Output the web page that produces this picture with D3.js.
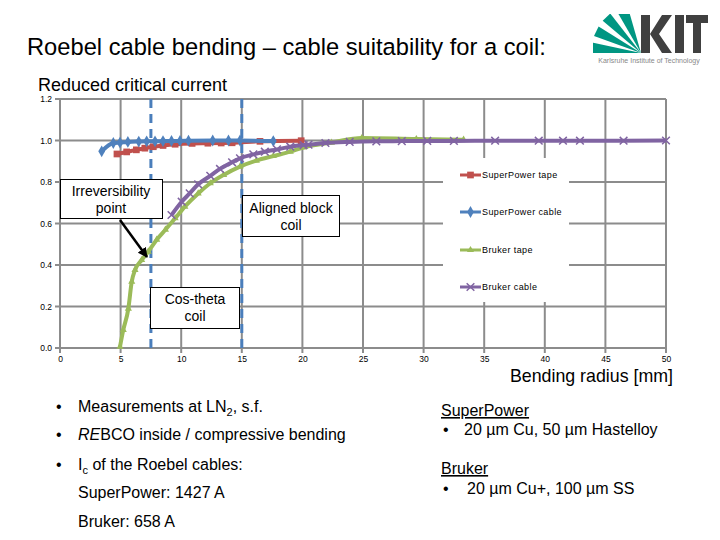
<!DOCTYPE html>
<html><head><meta charset="utf-8">
<script src="https://cdn.jsdelivr.net/npm/d3@7"></script>
<style>body{margin:0;background:#fff}svg{display:block}</style>
</head><body>
<svg id="c" width="720" height="540"></svg>
<script>
// ---------- DATA ----------
const seriesNames = ["SuperPower tape", "SuperPower cable", "Bruker tape", "Bruker cable"];
const spTapeR  = [4.7, 5.5, 6.3, 7.0, 7.7, 8.5, 9.5, 10.9, 12.2, 13.3, 14.2, 16.5, 19.9];
const spTapeV  = [0.935, 0.945, 0.955, 0.963, 0.970, 0.976, 0.982, 0.986, 0.987, 0.988, 0.989, 0.996, 0.999];
const spCableR = [3.44, 4.4, 4.95, 5.6, 6.5, 7.15, 7.84, 8.5, 9.2, 9.9, 10.6, 12.6, 13.9, 14.85, 17.6];
const spCableV = [0.948, 0.988, 0.990, 0.993, 0.995, 0.996, 0.996, 0.997, 0.998, 0.998, 0.999, 1.0, 1.0, 1.0, 0.997];
const brTapeR  = [4.95, 5.22, 5.64, 5.92, 6.19, 6.74, 7.28, 7.98, 8.7, 9.5, 10.3, 11.4, 12.4, 13.5, 14.85, 16.2, 17.6, 19.0, 20.1, 22.4, 24.9, 29.4, 33.3];
const brTapeV  = [0.006, 0.087, 0.19, 0.32, 0.376, 0.424, 0.464, 0.522, 0.57, 0.625, 0.681, 0.745, 0.794, 0.834, 0.874, 0.903, 0.925, 0.946, 0.967, 0.99, 1.012, 1.007, 1.004];
const brCableR = [9.2, 10.04, 10.7, 11.4, 12.4, 13.2, 14.2, 14.85, 15.95, 16.9, 17.9, 19.0, 20.1, 20.5, 21.9, 23.9, 26.1, 28.2, 30.3, 32.5, 35.9, 39.5, 41.5, 42.9, 46.5, 50.0];
const brCableV = [0.641, 0.705, 0.745, 0.789, 0.830, 0.863, 0.895, 0.914, 0.933, 0.946, 0.957, 0.970, 0.978, 0.980, 0.988, 0.993, 0.996, 0.997, 0.998, 0.998, 0.999, 0.999, 0.999, 0.999, 0.999, 1.0];
const xTicks = [0, 5, 10, 15, 20, 25, 30, 35, 40, 45, 50];
const yTicks = [0.0, 0.2, 0.4, 0.6, 0.8, 1.0, 1.2];
const markerLines = [7.5, 15];   // irreversibility point / aligned block coil radii
const colors = ["#C0504D", "#4F81BD", "#9BBB59", "#8064A2"];

// ---------- SETUP ----------
const svg = d3.select("#c");
const F = "'Liberation Sans', Arial, sans-serif";
const x = d3.scaleLinear().domain([0, 50]).range([60, 666]);
const y = d3.scaleLinear().domain([0, 1.2]).range([348, 99]);

// title
svg.append("text").attr("x", 27).attr("y", 55).attr("font-family", F).attr("font-size", 23.7)
  .attr("fill", "#000").text("Roebel cable bending – cable suitability for a coil:");
svg.append("text").attr("x", 38).attr("y", 91).attr("font-family", F).attr("font-size", 18)
  .attr("fill", "#000").text("Reduced critical current");

// KIT logo
const logo = svg.append("g");
const ax = 641, ay = 53;
const rays = [[180, 168], [160, 148], [140, 128], [120, 106]];
rays.forEach(([a1, a2]) => {
  const r = 50, rad = d => d * Math.PI / 180;
  logo.append("path").attr("fill", "#009682")
    .attr("d", `M${ax},${ay} L${ax + r * Math.cos(rad(a1))},${ay - r * Math.sin(rad(a1))} L${ax + r * Math.cos(rad(a2))},${ay - r * Math.sin(rad(a2))} Z`);
});
logo.append("path").attr("fill", "#fff").attr("d", "M560,0 L593,0 L593,70 L560,70 Z");
logo.append("path").attr("fill", "#fff").attr("d", "M560,0 L720,0 L720,14 L560,14 Z");
logo.append("path").attr("fill", "#404040")
  .attr("d", "M641,15 L650,15 L650,53 L641,53 Z M650,34 L662,15 L672,15 L659,34 L672,53 L662,53 Z");
logo.append("path").attr("fill", "#404040").attr("d", "M675,15 L684,15 L684,53 L675,53 Z");
logo.append("path").attr("fill", "#404040").attr("d", "M686,15 L708,15 L708,23 L701,23 L701,53 L693,53 L693,23 L686,23 Z");
svg.append("text").attr("x", 649).attr("y", 63).attr("text-anchor", "middle").attr("font-family", F)
  .attr("font-size", 7).attr("fill", "#888").text("Karlsruhe Institute of Technology");

// gridlines
const grid = svg.append("g").attr("stroke", "#8c8c8c").attr("stroke-width", 2);
yTicks.forEach(t => grid.append("line").attr("x1", 55).attr("x2", x(50)).attr("y1", y(t)).attr("y2", y(t)));
xTicks.forEach(t => grid.append("line").attr("x1", x(t)).attr("x2", x(t)).attr("y1", y(1.2)).attr("y2", y(0) + 5));

// axes labels
const yAxis = d3.axisLeft(y).tickValues(yTicks).tickFormat(d3.format(".1f")).tickSize(0).tickPadding(8);
const gy = svg.append("g").attr("transform", "translate(60,0)").call(yAxis);
gy.select(".domain").remove();
gy.selectAll("text").attr("font-family", F).attr("font-size", 8.5).attr("fill", "#000");
const xAxis = d3.axisBottom(x).tickValues(xTicks).tickFormat(d3.format("d")).tickSize(0).tickPadding(8);
const gx = svg.append("g").attr("transform", "translate(0,348)").call(xAxis);
gx.select(".domain").remove();
gx.selectAll("text").attr("font-family", F).attr("font-size", 8.5).attr("fill", "#000");

svg.append("text").attr("x", 673).attr("y", 382).attr("text-anchor", "end").attr("font-family", F)
  .attr("font-size", 17.8).attr("fill", "#000").text("Bending radius [mm]");

// dashed vertical lines
markerLines.forEach(r => svg.append("line").attr("x1", x(r)).attr("x2", x(r)).attr("y1", y(1.2)).attr("y2", y(0))
  .attr("stroke", "#4A7EBB").attr("stroke-width", 3).attr("stroke-dasharray", "9,6"));

// series
const series = [
  {name: seriesNames[0], r: spTapeR, v: spTapeV, c: colors[0], sym: d3.symbolSquare, size: 45, fill: true},
  {name: seriesNames[1], r: spCableR, v: spCableV, c: colors[1], sym: d3.symbolDiamond, size: 40, fill: true},
  {name: seriesNames[2], r: brTapeR, v: brTapeV, c: colors[2], sym: d3.symbolTriangle, size: 22, fill: true},
  {name: seriesNames[3], r: brCableR, v: brCableV, c: colors[3], sym: d3.symbolX, size: 40, fill: false}
];
const line = d3.line().curve(d3.curveMonotoneX);
series.forEach(s => {
  const pts = s.r.map((r, i) => [x(r), y(s.v[i])]);
  svg.append("path").attr("d", line(pts)).attr("fill", "none").attr("stroke", s.c).attr("stroke-width", 4)
    .attr("stroke-linejoin", "round");
  const g = svg.append("g");
  pts.forEach(p => {
    const m = g.append("path").attr("d", d3.symbol().type(s.sym).size(s.size)()).attr("transform", `translate(${p[0]},${p[1]})`);
    if (s.fill) m.attr("fill", s.c); else m.attr("fill", "none").attr("stroke", s.c).attr("stroke-width", 1.5);
  });
});

// legend
const lg = svg.append("g");
lg.append("rect").attr("x", 443).attr("y", 158).attr("width", 126).attr("height", 144).attr("fill", "#fff").attr("stroke", "none");
const legY = [175, 212, 250, 287];
series.forEach((s, i) => {
  lg.append("line").attr("x1", 460).attr("x2", 481).attr("y1", legY[i]).attr("y2", legY[i]).attr("stroke", s.c).attr("stroke-width", 3);
  const m = lg.append("path").attr("d", d3.symbol().type(s.sym).size(s.size)()).attr("transform", `translate(470.5,${legY[i]})`);
  if (s.fill) m.attr("fill", s.c); else m.attr("fill", "none").attr("stroke", s.c).attr("stroke-width", 1.5);
  lg.append("text").attr("x", 482).attr("y", legY[i] + 3).attr("font-family", F).attr("font-size", 9)
    .attr("letter-spacing", 0.4).attr("fill", "#000").text(s.name);
});

// annotation boxes
function box(x0, y0, w, h, lines, cx, ly) {
  svg.append("rect").attr("x", x0).attr("y", y0).attr("width", w).attr("height", h).attr("fill", "#fff").attr("stroke", "#000").attr("stroke-width", 1);
  lines.forEach((t, i) => svg.append("text").attr("x", cx).attr("y", ly[i]).attr("text-anchor", "middle")
    .attr("font-family", F).attr("font-size", 14).attr("fill", "#000").text(t));
}
box(60.5, 179.5, 102, 39, ["Irreversibility", "point"], 111, [196, 213]);
box(242.5, 195.5, 97, 41, ["Aligned block", "coil"], 291, [213, 230]);
box(150.5, 287.5, 89, 41, ["Cos-theta", "coil"], 195, [304, 321]);

// arrow
svg.append("defs").append("marker").attr("id", "ah").attr("viewBox", "0 0 10 10").attr("refX", 9).attr("refY", 5)
  .attr("markerWidth", 4).attr("markerHeight", 4).attr("orient", "auto")
  .append("path").attr("d", "M0,0 L10,5 L0,10 Z").attr("fill", "#000");
svg.append("line").attr("x1", 120).attr("y1", 220).attr("x2", 147).attr("y2", 257).attr("stroke", "#000")
  .attr("stroke-width", 2.5).attr("marker-end", "url(#ah)");

// bottom text
const bt = svg.append("g").attr("font-family", F).attr("font-size", 16).attr("fill", "#000");
[[412], [440], [470]].forEach(([yy]) => bt.append("text").attr("x", 56).attr("y", yy).text("•"));
const t1 = bt.append("text").attr("x", 78).attr("y", 412);
t1.append("tspan").text("Measurements at LN");
t1.append("tspan").attr("font-size", 11).attr("dy", 4).text("2");
t1.append("tspan").attr("dy", -4).text(", s.f.");
const t2 = bt.append("text").attr("x", 78).attr("y", 440);
t2.append("tspan").attr("font-style", "italic").text("RE");
t2.append("tspan").text("BCO inside / compressive bending");
const t3 = bt.append("text").attr("x", 78).attr("y", 470);
t3.append("tspan").text("I");
t3.append("tspan").attr("font-size", 11).attr("dy", 4).text("c");
t3.append("tspan").attr("dy", -4).text(" of the Roebel cables:");
bt.append("text").attr("x", 78).attr("y", 498).text("SuperPower: 1427 A");
bt.append("text").attr("x", 78).attr("y", 527).text("Bruker: 658 A");

bt.append("text").attr("x", 441).attr("y", 416).attr("text-decoration", "underline").text("SuperPower");
bt.append("text").attr("x", 443).attr("y", 435).text("•");
bt.append("text").attr("x", 464).attr("y", 435).text("20 µm Cu, 50  µm Hastelloy");
bt.append("text").attr("x", 441).attr("y", 474).attr("text-decoration", "underline").text("Bruker");
bt.append("text").attr("x", 443).attr("y", 494).text("•");
bt.append("text").attr("x", 467).attr("y", 494).text("20 µm Cu+, 100  µm SS");
</script>
</body></html>
